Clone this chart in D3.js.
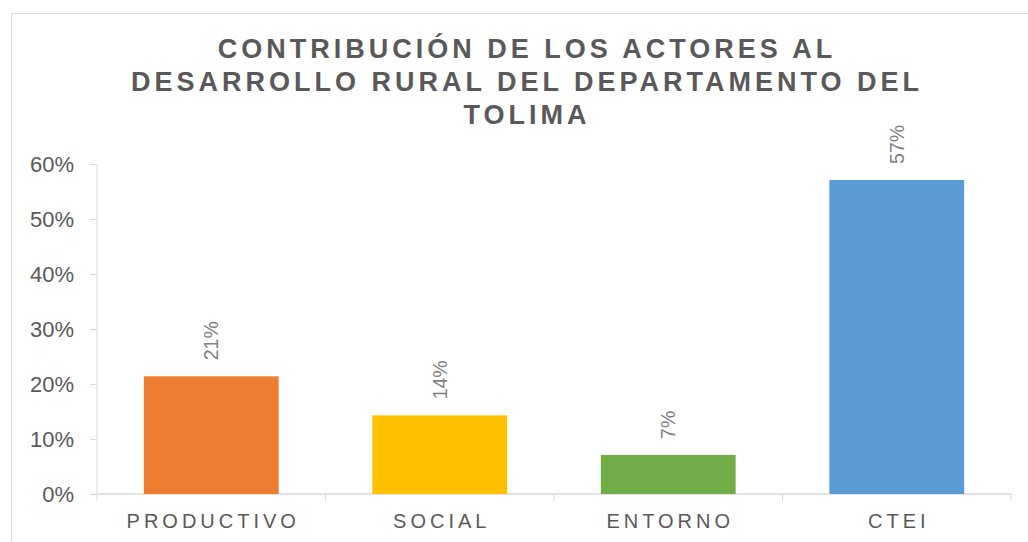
<!DOCTYPE html>
<html lang="es">
<head>
  <meta charset="UTF-8">
  <title>Contribución de los actores</title>
  <script src="https://d3js.org/d3.v7.min.js"></script>
  <style>
    body {
      margin: 0;
      background: #fff;
      font-family: "Liberation Sans", Arial, sans-serif;
    }
    svg { display: block; }
  </style>
</head>
<body>
  <svg width="1028" height="542"></svg>

  <script>
    const categories = ["PRODUCTIVO", "SOCIAL", "ENTORNO", "CTEI"];
    const values = [0.214, 0.143, 0.071, 0.571];
    const labels = ["21%", "14%", "7%", "57%"];
    const colors = ["#ED7D31", "#FFC000", "#70AD47", "#5B9BD5"];
    const yTicks = [0, 0.1, 0.2, 0.3, 0.4, 0.5, 0.6];
    const titleLines = ["CONTRIBUCIÓN DE LOS ACTORES AL", "DESARROLLO RURAL DEL DEPARTAMENTO DEL", "TOLIMA"];

    const svg = d3.select("svg");

    // chart border
    svg.append("rect")
      .attr("x", 11.5).attr("y", 13.5)
      .attr("width", 1040).attr("height", 560)
      .attr("fill", "none")
      .attr("stroke", "#d9d9d9");

    const x = d3.scaleBand()
      .domain(categories)
      .range([97, 1011])
      .paddingInner(0.41)
      .paddingOuter(0.205);

    const y = d3.scaleLinear()
      .domain([0, 0.6])
      .range([494, 164]);

    // title
    svg.append("g")
      .selectAll("text")
      .data(titleLines)
      .enter().append("text")
      .attr("x", 527)
      .attr("y", (d, i) => 58 + i * 33)
      .attr("text-anchor", "middle")
      .attr("fill", "#595959")
      .style("font-size", "27px")
      .style("font-weight", "bold")
      .style("letter-spacing", "4px")
      .text(d => d);

    // y axis
    const yAxis = svg.append("g")
      .attr("transform", "translate(97,0)")
      .call(d3.axisLeft(y).tickValues(yTicks).tickFormat(d3.format(".0%")).tickSize(7).tickPadding(16));
    yAxis.select(".domain").attr("stroke", "#d9d9d9").attr("d", "M0,494V164");
    yAxis.selectAll(".tick line").attr("stroke", "#d9d9d9");
    yAxis.selectAll(".tick text")
      .attr("fill", "#595959")
      .style("font-size", "22px")
      .style("font-family", "'Liberation Sans', Arial, sans-serif");

    // x axis
    const xAxis = svg.append("g")
      .attr("transform", "translate(0,494)");
    xAxis.append("line")
      .attr("x1", 97).attr("x2", 1011)
      .attr("stroke", "#d9d9d9").attr("stroke-width", 1.5);
    const step = x.step();
    const edges = d3.range(categories.length + 1).map(i => x.range()[0] + i * step);
    xAxis.selectAll(".edge")
      .data(edges)
      .enter().append("line")
      .attr("x1", d => d).attr("x2", d => d)
      .attr("y1", 0).attr("y2", 7)
      .attr("stroke", "#d9d9d9");
    xAxis.selectAll(".cat")
      .data(categories)
      .enter().append("text")
      .attr("x", d => x(d) + x.bandwidth() / 2 + 2)
      .attr("y", 34)
      .attr("text-anchor", "middle")
      .attr("fill", "#595959")
      .style("font-size", "20px")
      .style("letter-spacing", "4px")
      .text(d => d);

    // bars
    svg.append("g")
      .selectAll("rect")
      .data(values)
      .enter().append("rect")
      .attr("x", (d, i) => x(categories[i]))
      .attr("y", d => y(d))
      .attr("width", x.bandwidth())
      .attr("height", d => y(0) - y(d))
      .attr("fill", (d, i) => colors[i]);

    // value labels, rotated
    svg.append("g")
      .selectAll("text")
      .data(values)
      .enter().append("text")
      .attr("transform", (d, i) => `translate(${x(categories[i]) + x.bandwidth() / 2 + 7},${y(d) - 16}) rotate(-90)`)
      .attr("fill", "#7f7f7f")
      .style("font-size", "19.5px")
      .text((d, i) => labels[i]);
  </script>
</body>
</html>
